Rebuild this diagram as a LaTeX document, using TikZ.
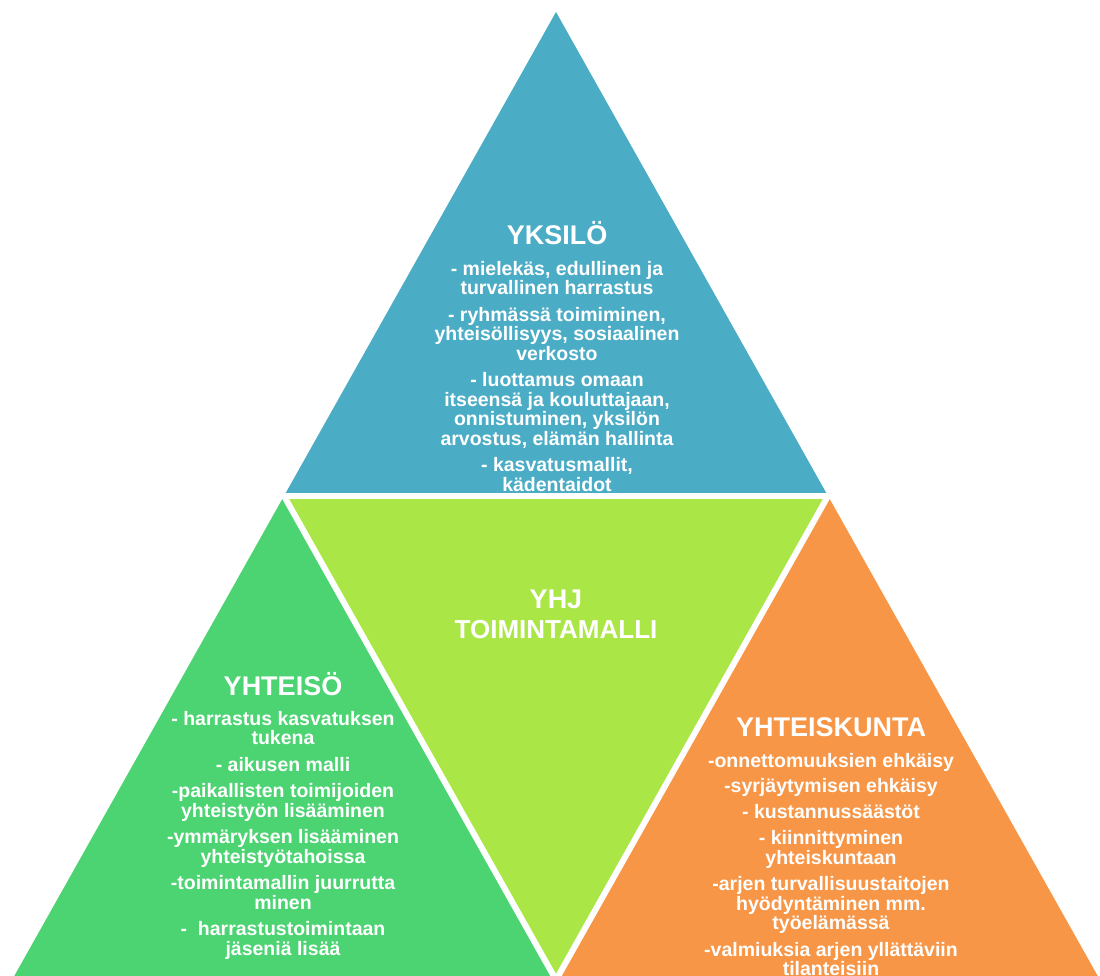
\documentclass[tikz,border=0pt]{standalone}
\usepackage{fontspec}
\setmainfont{Liberation Sans}

\definecolor{yksiloblue}{RGB}{75,172,198}
\definecolor{mallilime}{RGB}{170,231,70}
\definecolor{yhteisogreen}{RGB}{76,211,114}
\definecolor{kuntaorange}{RGB}{247,150,70}

\tikzset{
	gap/.style={white, line width=6pt},
	title/.style={text=white, font=\bfseries\fontsize{27}{27}\selectfont, anchor=base, inner sep=0pt},
	body/.style={text=white, font=\bfseries\fontsize{19.5}{19.5}\selectfont, align=center, anchor=north, inner sep=0pt},
}

\begin{document}
\begin{tikzpicture}[x=1pt, y=-1pt]
	\useasboundingbox (0,0) rectangle (1100,976); % Explicit bounding box
	\clip (0,0) rectangle (1100,976);
	\coordinate (top) at (556,12);
	\coordinate (midL) at (284,496);
	\coordinate (midR) at (828,496);
	\coordinate (botL) at (12,980);
	\coordinate (botM) at (556,980);
	\coordinate (botR) at (1100,980);
	\fill [yksiloblue] (top) -- (midL) -- (midR) -- cycle;
	\node [title] (yksilo) at (557,245) {YKSILÖ};
	\node [body] (yksilo text) at (557,261) {- mielekäs, edullinen ja\\turvallinen harrastus\\[7pt]- ryhmässä toimiminen,\\yhteisöllisyys, sosiaalinen\\verkosto\\[7pt]- luottamus omaan\\itseensä ja kouluttajaan,\\onnistuminen, yksilön\\arvostus, elämän hallinta\\[7pt]- kasvatusmallit,\\kädentaidot};
	\fill [mallilime] (midL) -- (midR) -- (botM) -- cycle;
	\fill [yhteisogreen] (midL) -- (botL) -- (botM) -- cycle;
	\fill [kuntaorange] (midR) -- (botM) -- (botR) -- cycle;
	\draw [gap] (midL) -- (midR);
	\draw [gap] (midL) -- (botM) -- (midR);
	\node [title] (yhj) at (556,608) {YHJ};
	\node [title, font=\bfseries\fontsize{26}{26}\selectfont] (toimintamalli) at (556,638) {TOIMINTAMALLI};
	\node [title] (yhteiso) at (283,695) {YHTEISÖ};
	\node [body] (yhteiso text) at (283,711) {- harrastus kasvatuksen\\tukena\\[7pt]- aikusen malli\\[7pt]-paikallisten toimijoiden\\yhteistyön lisääminen\\[7pt]-ymmäryksen lisääminen\\yhteistyötahoissa\\[7pt]-toimintamallin juurrutta\\minen\\[7pt]- \ harrastustoimintaan\\jäseniä lisää};
	\node [title] (yhteiskunta) at (831,736) {YHTEISKUNTA};
	\node [body] (yhteiskunta text) at (831,753) {-onnettomuuksien ehkäisy\\[6pt]-syrjäytymisen ehkäisy\\[6pt]- kustannussäästöt\\[7pt]- kiinnittyminen\\yhteiskuntaan\\[7pt]-arjen turvallisuustaitojen\\hyödyntäminen mm.\\työelämässä\\[7pt]-valmiuksia arjen yllättäviin\\tilanteisiin};
\end{tikzpicture}
\end{document}
